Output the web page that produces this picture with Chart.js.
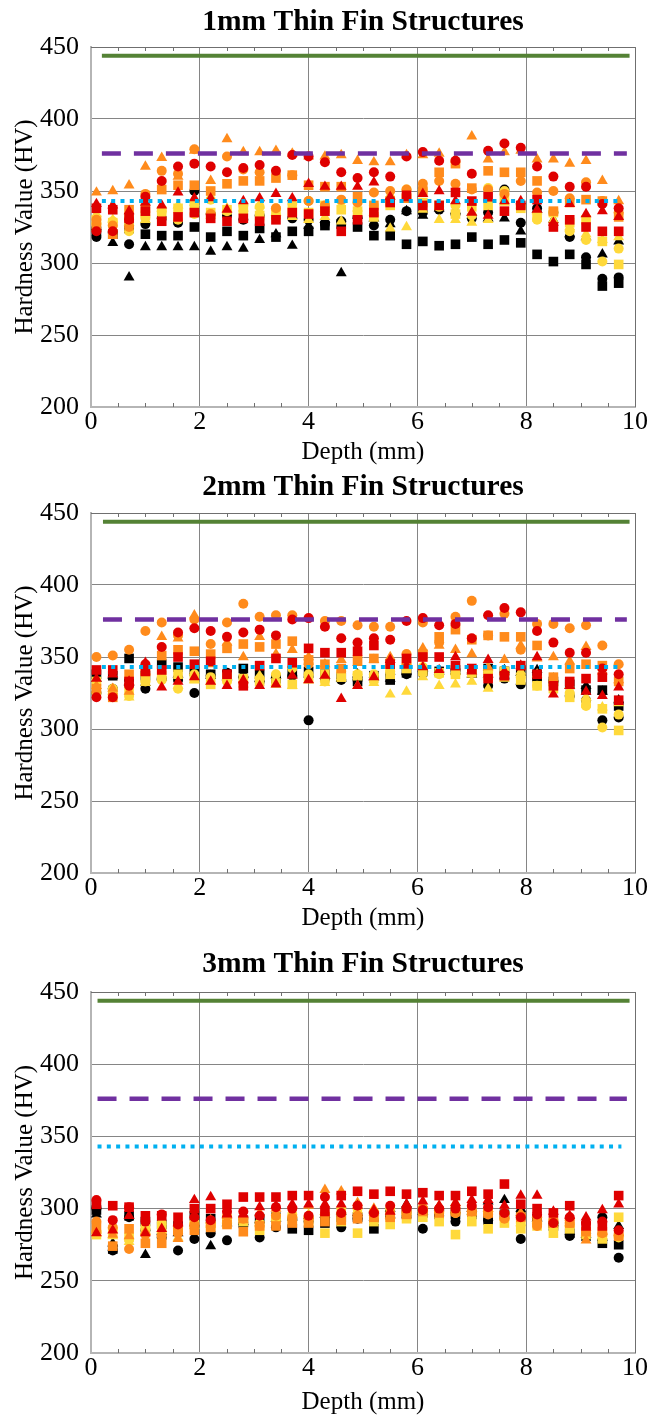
<!DOCTYPE html>
<html>
<head>
  <meta charset="UTF-8">
  <title>Thin Fin Structures - Hardness</title>
  <script src="https://cdn.jsdelivr.net/npm/chart.js@4"></script>
  <style>
    body { margin: 0; background: #fff; }
    .panel { position: absolute; left: 0; width: 648px; }
  </style>
</head>
<body>
<div class="panel" style="top:0px"><canvas id="chart1mm" width="648" height="470"></canvas></div>
<div class="panel" style="top:470px"><canvas id="chart2mm" width="648" height="475"></canvas></div>
<div class="panel" style="top:945px"><canvas id="chart3mm" width="648" height="476"></canvas></div>

<script>
  // depth positions (mm)
  const depths = [0.1, 0.4, 0.7, 1.0, 1.3, 1.6, 1.9, 2.2, 2.5, 2.8, 3.1, 3.4, 3.7, 4.0, 4.3, 4.6, 4.9,
    5.2, 5.5, 5.8, 6.1, 6.4, 6.7, 7.0, 7.3, 7.6, 7.9, 8.2, 8.5, 8.8, 9.1, 9.4, 9.7];

  const xTicks = [0, 2, 4, 6, 8, 10];
  const yTicks = [200, 250, 300, 350, 400, 450];

  // reference levels (HV): green solid, purple dashed, blue dotted
  const refLevels = [444, 376, 343];
  const refStart1 = [0.2, 0.2, 0.2];
  const refEnd1 = [9.9, 9.85, 9.75];
  const refStart2 = [0.22, 0.22, 0.2];
  const refEnd2 = [9.9, 9.85, 9.75];
  const refStart3 = [0.12, 0.12, 0.12];
  const refEnd3 = [9.9, 9.85, 9.75];

  // ---- 1mm ----
  const red1Circle = [322, 322, 330, 346, 357, 367, 369, 367, 363, 366, 368, 364, 375, 374, 370, 363, 359, 363, 360, 374, 377, 371, 371, 362, 378, 383, 380, 367, 360, 353, 353, 341, 338];
  const red1Square = [338, 337, 331, 336, 329, 332, 335, 331, 329, 331, 329, 330, 335, 334, 336, 322, 330, 335, 342, 347, 340, 340, 349, 343, 346, 336, 340, 344, 325, 330, 325, 322, 322];
  const red1Tri = [341, 340, 336, 342, 340, 349, 345, 345, 337, 343, 345, 348, 345, 355, 353, 353, 353, 356, 346, 345, 348, 350, 343, 335, 333, 343, 343, 337, 328, 341, 334, 336, 332];
  const orange1Circle = [330, 326, 325, 348, 364, 362, 379, 334, 374, 365, 363, 338, 361, 343, 340, 344, 342, 349, 350, 351, 355, 357, 355, 351, 351, 348, 357, 349, 350, 345, 356, 343, 335];
  const orange1Square = [325, 320, 337, 338, 351, 354, 354, 350, 355, 357, 357, 359, 361, 354, 353, 353, 346, 340, 343, 345, 350, 363, 369, 352, 364, 363, 363, 357, 336, 342, 344, 343, 332];
  const orange1Tri = [349, 350, 354, 367, 373, 360, 378, 357, 386, 377, 377, 378, 376, 374, 374, 375, 371, 370, 370, 375, 375, 376, 372, 388, 372, 377, 378, 372, 372, 369, 371, 357, 343];
  const yellow1Circle = [327, 329, 322, 332, 336, 330, 334, 344, 336, 340, 339, 338, 341, 343, 336, 343, 342, 340, 345, 351, 351, 339, 340, 333, 352, 350, 340, 330, 335, 322, 316, 301, 310];
  const yellow1Square = [330, 328, 330, 333, 336, 338, 340, 335, 337, 337, 333, 334, 336, 335, 340, 337, 336, 332, 340, 345, 342, 340, 334, 339, 340, 345, 338, 332, 335, 328, 330, 315, 299];
  const yellow1Tri = [334, 330, 328, 330, 333, 340, 342, 333, 338, 338, 340, 335, 332, 330, 332, 329, 338, 335, 324, 325, 337, 330, 330, 328, 330, 342, 340, 336, 330, 325, 320, 316, 318];
  const black1Circle = [318, 321, 313, 327, 331, 328, 350, 334, 333, 330, 333, 332, 331, 330, 327, 329, 332, 326, 330, 336, 335, 337, 334, 331, 335, 351, 328, 338, 335, 318, 304, 289, 290];
  const black1Square = [322, 320, 324, 320, 319, 319, 325, 318, 322, 319, 324, 318, 322, 322, 326, 327, 325, 319, 319, 313, 315, 312, 313, 318, 313, 316, 314, 306, 301, 306, 299, 284, 286];
  const black1Tri = [325, 314, 290, 311, 311, 311, 311, 308, 311, 310, 316, 320, 312, 326, 330, 293, 333, 331, 327, 336, 333, 338, 336, 335, 331, 331, 322, 337, 330, 320, 318, 306, 315];

  // ---- 2mm ----
  const red2Circle = [322, 322, 330, 345, 357, 367, 370, 368, 364, 367, 369, 365, 376, 377, 371, 363, 360, 363, 362, 375, 377, 372, 373, 363, 379, 384, 381, 368, 360, 353, 353, 342, 338];
  const red2Square = [341, 341, 333, 340, 341, 350, 345, 347, 338, 330, 344, 349, 346, 356, 353, 353, 354, 358, 345, 349, 350, 350, 344, 342, 335, 337, 344, 338, 330, 333, 335, 336, 320];
  const red2Tri = [335, 338, 333, 346, 329, 333, 336, 333, 330, 334, 330, 331, 337, 334, 337, 321, 330, 336, 348, 344, 343, 341, 350, 340, 348, 340, 344, 350, 324, 330, 326, 323, 329];
  const orange2Circle = [350, 351, 355, 368, 374, 365, 376, 359, 374, 387, 378, 379, 379, 345, 375, 375, 372, 371, 371, 352, 374, 360, 378, 389, 365, 380, 355, 373, 373, 370, 372, 358, 345];
  const orange2Square = [328, 322, 338, 340, 351, 355, 354, 352, 356, 359, 357, 359, 361, 348, 345, 342, 348, 349, 345, 346, 352, 364, 369, 362, 365, 364, 364, 358, 336, 342, 345, 344, 333];
  const orange2Tri = [330, 328, 326, 340, 364, 363, 379, 345, 360, 350, 364, 352, 355, 350, 345, 348, 346, 348, 350, 346, 356, 358, 355, 352, 343, 348, 358, 349, 350, 347, 357, 340, 334];
  const yellow2Circle = [325, 328, 323, 333, 334, 328, 338, 336, 333, 332, 335, 338, 342, 338, 333, 340, 338, 338, 340, 345, 343, 338, 338, 339, 340, 338, 336, 330, 331, 325, 316, 301, 310];
  const yellow2Square = [333, 325, 328, 335, 337, 338, 335, 331, 336, 335, 333, 332, 331, 335, 338, 336, 337, 335, 338, 342, 340, 339, 338, 339, 337, 340, 334, 330, 328, 322, 318, 314, 299];
  const yellow2Tri = [330, 326, 322, 332, 338, 330, 334, 333, 336, 331, 337, 332, 330, 334, 332, 336, 330, 332, 324, 326, 336, 330, 331, 333, 328, 335, 340, 338, 335, 330, 322, 315, 318];
  const black2Circle = [325, 328, 334, 328, 335, 334, 325, 337, 339, 336, 333, 336, 337, 306, 335, 334, 334, 336, 338, 338, 339, 340, 341, 339, 330, 335, 331, 334, 333, 323, 320, 306, 308];
  const black2Square = [338, 337, 349, 337, 345, 343, 340, 338, 338, 342, 338, 335, 340, 340, 338, 336, 333, 337, 334, 339, 340, 340, 341, 339, 342, 340, 341, 338, 333, 331, 327, 327, 316];
  const black2Tri = [335, 337, 332, 332, 336, 338, 340, 337, 336, 338, 335, 337, 338, 338, 337, 335, 338, 336, 335, 340, 342, 340, 340, 338, 338, 341, 339, 341, 335, 330, 330, 326, 320];

  // ---- 3mm ----
  const red3Circle = [306, 292, 301, 291, 296, 289, 294, 292, 298, 298, 295, 301, 300, 295, 308, 297, 302, 297, 302, 300, 299, 300, 300, 302, 301, 297, 294, 296, 290, 294, 290, 291, 285];
  const red3Square = [303, 302, 301, 295, 295, 294, 300, 300, 303, 308, 308, 308, 309, 309, 298, 309, 312, 310, 312, 310, 311, 309, 309, 312, 310, 317, 303, 300, 297, 302, 288, 288, 309];
  const red3Tri = [283, 285, 295, 283, 286, 290, 306, 308, 296, 296, 301, 302, 303, 303, 303, 303, 302, 299, 298, 303, 305, 302, 304, 306, 306, 302, 309, 309, 298, 295, 294, 299, 303];
  const orange3Circle = [291, 287, 272, 282, 281, 283, 289, 288, 295, 293, 288, 295, 294, 293, 296, 296, 295, 296, 297, 298, 300, 298, 297, 298, 296, 293, 295, 288, 292, 290, 285, 283, 282];
  const orange3Square = [287, 274, 286, 276, 276, 285, 285, 287, 289, 284, 288, 288, 290, 290, 291, 292, 293, 294, 294, 296, 298, 297, 298, 298, 297, 295, 294, 292, 290, 290, 284, 284, 281];
  const orange3Tri = [285, 282, 281, 284, 283, 279, 290, 292, 295, 292, 297, 300, 302, 302, 313, 312, 304, 300, 295, 302, 303, 302, 303, 300, 300, 298, 297, 296, 292, 294, 278, 284, 283];
  const yellow3Circle = [284, 286, 279, 286, 290, 284, 290, 290, 292, 293, 290, 295, 296, 294, 296, 300, 300, 298, 300, 297, 299, 298, 297, 296, 297, 293, 290, 289, 288, 288, 285, 282, 280];
  const yellow3Square = [282, 283, 280, 286, 286, 285, 289, 288, 290, 291, 285, 293, 292, 291, 283, 291, 283, 291, 289, 293, 294, 291, 282, 291, 286, 290, 286, 288, 283, 286, 282, 279, 294];
  const yellow3Tri = [283, 281, 277, 284, 285, 280, 288, 289, 292, 293, 290, 294, 296, 296, 298, 299, 299, 297, 295, 298, 300, 299, 304, 298, 300, 299, 290, 292, 288, 290, 283, 281, 283];
  const black3Circle = [300, 271, 294, 285, 280, 271, 279, 283, 278, 288, 280, 287, 293, 291, 294, 287, 293, 292, 294, 294, 286, 295, 291, 296, 292, 297, 279, 292, 290, 281, 283, 294, 266];
  const black3Square = [299, 272, 295, 291, 289, 288, 295, 293, 292, 292, 293, 294, 286, 285, 290, 294, 294, 286, 296, 298, 297, 296, 296, 296, 292, 296, 295, 293, 288, 283, 281, 276, 275];
  const black3Tri = [296, 276, 295, 268, 284, 283, 290, 274, 290, 291, 292, 293, 294, 295, 296, 298, 297, 299, 300, 303, 298, 301, 299, 300, 305, 306, 300, 293, 290, 284, 282, 280, 288];

  // ----- styling -----
  const FONT = '"Liberation Serif", "Times New Roman", serif';
  const colors = { red: '#DF0000', orange: '#FF8B1C', yellow: '#FFD93B', black: '#000000' };
  const shapes = { circle: 5, rect: 6.8, triangle: 6.3 };
  const refColors = ['#548235', '#7030A0', '#00B0F0'];
  const refWidths = [4, 4.5, 4];
  const refDashes = [[], [19, 13], [4, 5.3]];

  function toPoints(values) {
    return values.map((v, i) => ({ x: depths[i], y: v }));
  }

  function markerSet(values, color, shape) {
    return {
      type: 'scatter',
      data: toPoints(values),
      pointStyle: shape,
      pointRadius: shapes[shape],
      pointHoverRadius: shapes[shape],
      backgroundColor: color,
      borderWidth: 0
    };
  }

  function refSets(starts, ends) {
    return refLevels.map((lvl, k) => ({
      type: 'line',
      data: [{ x: starts[k], y: lvl }, { x: ends[k], y: lvl }],
      borderColor: refColors[k],
      borderWidth: refWidths[k],
      borderDash: refDashes[k],
      borderCapStyle: 'butt',
      pointRadius: 0,
      fill: false
    }));
  }

  // frame on top/right and small inner ticks every 0.5 mm
  const frameTicks = {
    id: 'frameTicks',
    beforeDatasetsDraw(chart) {
      const { ctx, chartArea: a, scales: { x } } = chart;
      ctx.save();
      ctx.strokeStyle = '#6f6f6f';
      ctx.lineWidth = 1;
      ctx.beginPath();
      ctx.moveTo(a.left, a.top + 0.5);
      ctx.lineTo(a.right + 0.5, a.top + 0.5);
      ctx.lineTo(a.right + 0.5, a.bottom);
      ctx.stroke();
      ctx.beginPath();
      for (let v = 0.5; v < 10; v += 0.5) {
        if (v % 2 === 0) continue;
        const px = Math.round(x.getPixelForValue(v)) + 0.5;
        ctx.moveTo(px, a.top);
        ctx.lineTo(px, a.top + 4);
        ctx.moveTo(px, a.bottom);
        ctx.lineTo(px, a.bottom - 4);
      }
      ctx.stroke();
      ctx.restore();
    }
  };

  function makeChart(id, title, series, starts, ends, lay) {
    const datasets = refSets(starts, ends).concat(series);
    new Chart(document.getElementById(id), {
      type: 'scatter',
      data: { datasets: datasets },
      options: {
        responsive: false,
        animation: false,
        events: [],
        layout: { padding: { left: 0, right: 13, top: 0, bottom: 0 } },
        plugins: {
          legend: { display: false },
          tooltip: { enabled: false },
          title: {
            display: true,
            fullSize: false,
            text: title,
            color: '#000',
            font: { family: FONT, size: 29.5, weight: 'bold', lineHeight: 1.2 },
            padding: { top: lay.titleTop, bottom: lay.titleBottom }
          }
        },
        scales: {
          x: {
            type: 'linear',
            min: 0,
            max: 10,
            afterBuildTicks: s => { s.ticks = xTicks.map(v => ({ value: v })); },
            afterFit: s => { s.height = lay.xHeight; },
            ticks: { color: '#000', font: { family: FONT, size: 26 }, padding: 0 },
            grid: { color: '#858585', lineWidth: 1, drawTicks: false },
            border: { color: '#b5b5b5', width: 2 },
            title: {
              display: true,
              text: 'Depth (mm)',
              color: '#000',
              font: { family: FONT, size: 25, lineHeight: 1.2 },
              padding: { top: 0, bottom: lay.xTitlePad }
            }
          },
          y: {
            type: 'linear',
            min: 200,
            max: 450,
            afterBuildTicks: s => { s.ticks = yTicks.map(v => ({ value: v })); },
            afterFit: s => { s.width = 91; },
            ticks: { color: '#000', font: { family: FONT, size: 26 }, padding: 12 },
            grid: { color: '#858585', lineWidth: 1, drawTicks: false },
            border: { color: '#b5b5b5', width: 2 },
            title: {
              display: true,
              text: 'Hardness Value (HV)',
              color: '#000',
              font: { family: FONT, size: 25, lineHeight: 1.2 },
              padding: { top: 10, bottom: 0 }
            }
          }
        }
      },
      plugins: [frameTicks]
    });
  }

  function seriesFor(r, o, y, b) {
    // red drawn on top, black at the bottom
    return [
      markerSet(r[0], colors.red, 'circle'),
      markerSet(r[1], colors.red, 'rect'),
      markerSet(r[2], colors.red, 'triangle'),
      markerSet(o[0], colors.orange, 'circle'),
      markerSet(o[1], colors.orange, 'rect'),
      markerSet(o[2], colors.orange, 'triangle'),
      markerSet(y[0], colors.yellow, 'circle'),
      markerSet(y[1], colors.yellow, 'rect'),
      markerSet(y[2], colors.yellow, 'triangle'),
      markerSet(b[0], colors.black, 'circle'),
      markerSet(b[1], colors.black, 'rect'),
      markerSet(b[2], colors.black, 'triangle')
    ];
  }

  makeChart('chart1mm', '1mm Thin Fin Structures',
    seriesFor([red1Circle, red1Square, red1Tri], [orange1Circle, orange1Square, orange1Tri],
      [yellow1Circle, yellow1Square, yellow1Tri], [black1Circle, black1Square, black1Tri]),
    refStart1, refEnd1,
    { titleTop: 4.3, titleBottom: 7.3, xHeight: 63, xTitlePad: 3 });

  makeChart('chart2mm', '2mm Thin Fin Structures',
    seriesFor([red2Circle, red2Square, red2Tri], [orange2Circle, orange2Square, orange2Tri],
      [yellow2Circle, yellow2Square, yellow2Tri], [black2Circle, black2Square, black2Tri]),
    refStart2, refEnd2,
    { titleTop: 0, titleBottom: 7.6, xHeight: 72, xTitlePad: 12 });

  makeChart('chart3mm', '3mm Thin Fin Structures',
    seriesFor([red3Circle, red3Square, red3Tri], [orange3Circle, orange3Square, orange3Tri],
      [yellow3Circle, yellow3Square, yellow3Tri], [black3Circle, black3Square, black3Tri]),
    refStart3, refEnd3,
    { titleTop: 2, titleBottom: 9.6, xHeight: 68, xTitlePad: 4 });
</script>
</body>
</html>
